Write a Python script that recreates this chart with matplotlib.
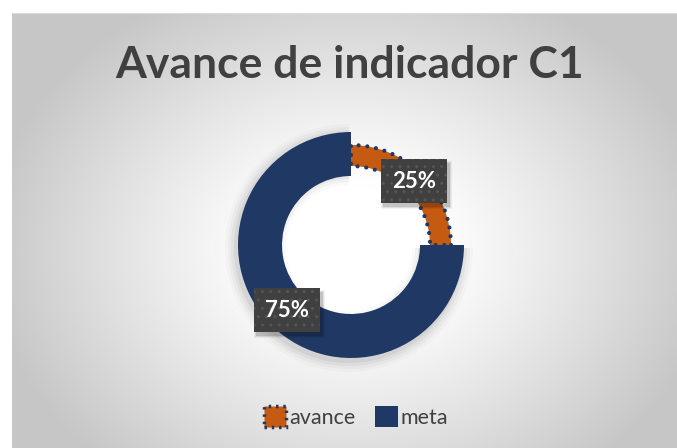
import numpy as np
import matplotlib
matplotlib.use("Agg")
import matplotlib.pyplot as plt
from matplotlib.patches import Patch, Wedge, Rectangle

# data
labels = ["avance", "meta"]
values = [25, 75]
pct_labels = ["25%", "75%"]
colors = ["#c55a11", "#203864"]

W, H = 677, 448
plt.rcParams['font.family'] = ['Lato', 'DejaVu Sans']
plt.rcParams['hatch.linewidth'] = 1.0

fig = plt.figure(figsize=(W / 100, H / 100), dpi=100)
fig.patch.set_facecolor("white")

# gradient panel (radial, white in the middle)
bg = fig.add_axes([12 / W, 0, 1 - 12 / W, (H - 13) / H])
bg.axis('off')
xs = np.linspace(12, W, 400)
ys = np.linspace(13, H, 300)
X, Y = np.meshgrid(xs, ys)
r = np.sqrt(((X - 351) / 330) ** 2 + ((Y - 250) / 260) ** 2)
t = np.clip((r - 0.25) / 0.85, 0, 1) ** 1.1
shade = 1.0 - 0.22 * t
bg.imshow(np.dstack([shade] * 3), extent=[0, 1, 0, 1], aspect='auto', origin='upper')
bg.set_xlim(0, 1)
bg.set_ylim(0, 1)
bg.plot([0, 1, 1], [0.999, 0.999, 0.999], color="#dadada", lw=1.5)

ax = fig.add_axes([0, 0, 1, 1])
ax.axis('off')
cx, cy, R = 351, H - 245, 113

# soft shadow behind the ring
for k, a in enumerate([0.05, 0.04, 0.03, 0.02]):
    ax.add_patch(Wedge((cx - 2, cy - 3), R + 2 + 3 * k, 90, 360, width=43 + 6 * k,
                       facecolor="black", alpha=a, lw=0))

wedges, _ = ax.pie(values, colors=colors, startangle=90, counterclock=False,
                   radius=R, center=(cx, cy),
                   wedgeprops=dict(width=44, linewidth=0))
# avance slice drawn thinner with a dotted navy edge
wedges[0].set_radius(100)
wedges[0].set_width(21)
wedges[0].set_edgecolor("#203864")
wedges[0].set_linewidth(3)
wedges[0].set_linestyle((0, (0.01, 2.1)))
wedges[0].set_capstyle('round')
wedges[0].set_zorder(3)

ax.set_xlim(0, W)
ax.set_ylim(0, H)
ax.set_aspect('auto')

label_pos = [(414, H - 181), (287, H - 310)]
label_texts = []
for (lx, ly), txt in zip(label_pos, pct_labels):
    tx = ax.text(lx, ly, txt, ha="center", va="center", fontsize=16, fontweight="bold",
                 color="white", zorder=5,
                 bbox=dict(boxstyle="square,pad=0.5", fc="#404040", ec="#555555", lw=0, hatch=".."))
    label_texts.append(tx)

# drop shadow under each label box
fig.canvas.draw()
inv = ax.transData.inverted()
for tx in label_texts:
    ext = tx.get_bbox_patch().get_window_extent()
    (x0, y0), (x1, y1) = inv.transform([[ext.x0, ext.y0], [ext.x1, ext.y1]])
    for k, a in enumerate([0.12, 0.08, 0.05]):
        ax.add_patch(Rectangle((x0 + 2 - k, y0 - 4 - k), x1 - x0 + 2 * k + 1, y1 - y0 + 2 * k,
                               facecolor="black", alpha=a, lw=0, zorder=4))

fig.text(350 / W, (H - 65) / H, "Avance de indicador C1", ha="center", va="center",
         fontsize=32, fontweight="bold", color="#404040")

handles = [Patch(facecolor=colors[0], edgecolor="#203864", linestyle=(0, (0.7, 1.4)),
                 linewidth=2.5, label=labels[0]),
           Patch(facecolor=colors[1], edgecolor="none", label=labels[1])]
leg = fig.legend(handles=handles, loc="center", bbox_to_anchor=(356 / W, 31 / H),
                 ncol=2, frameon=False, fontsize=15.5, handlelength=1.05, handleheight=1.1,
                 handletextpad=0.15, columnspacing=0.9)
for t_ in leg.get_texts():
    t_.set_color("#404040")

fig.savefig("out.png", dpi=100)
